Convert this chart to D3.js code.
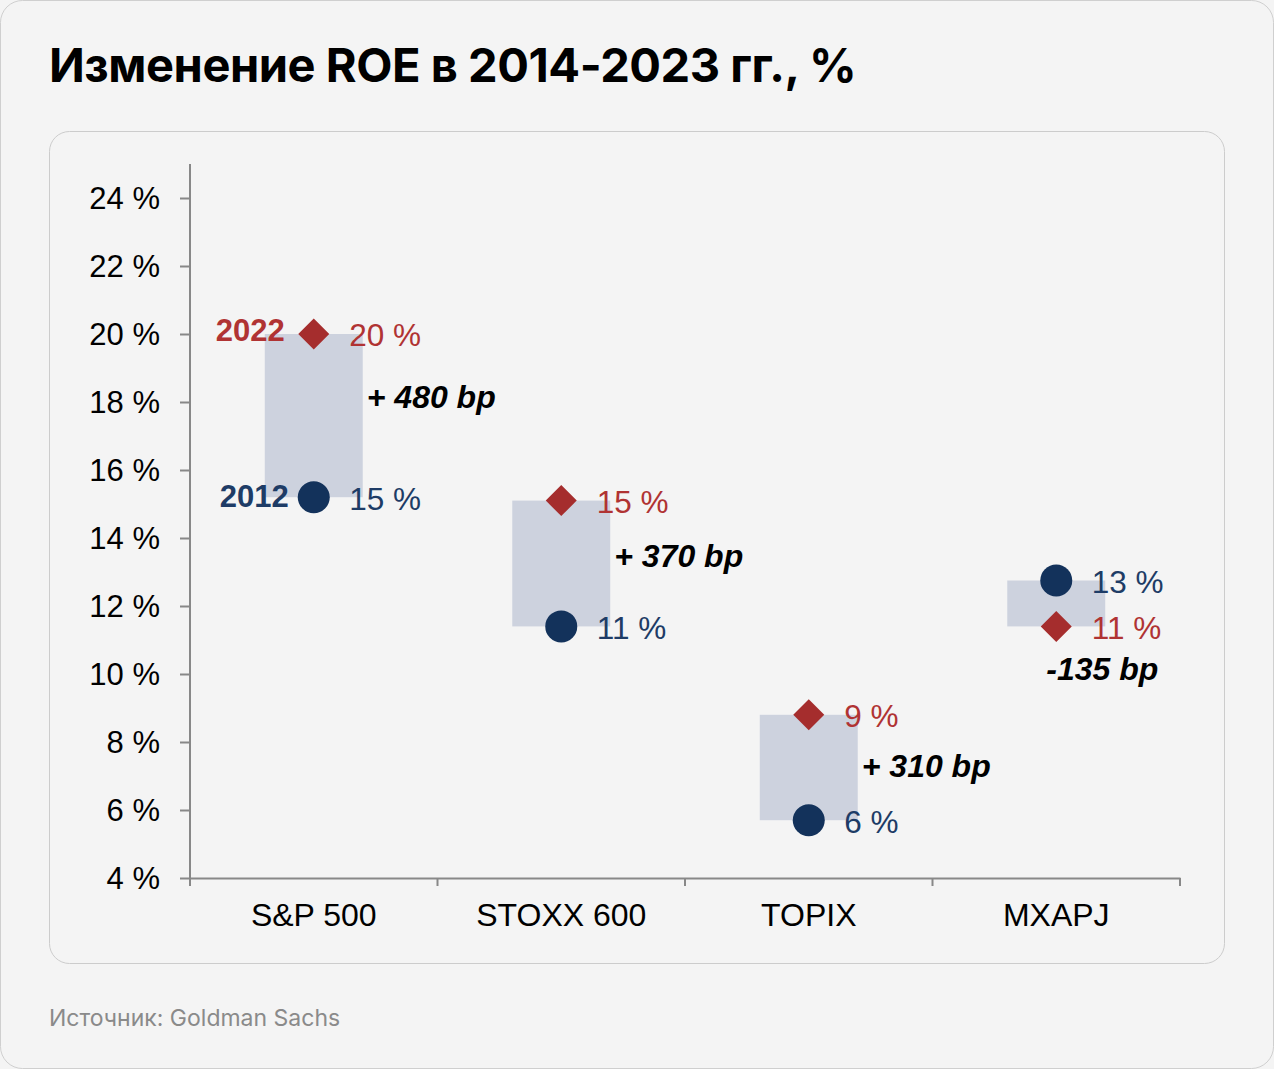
<!DOCTYPE html>
<html><head><meta charset="utf-8">
<script src="https://cdn.jsdelivr.net/npm/d3@7"></script>
<style>
html,body{margin:0;padding:0;background:#f4f4f4;}
svg{display:block;}
</style></head>
<body>
<svg id="chart" width="1274" height="1069"></svg>
<script>
const categories = ["S&P 500", "STOXX 600", "TOPIX", "MXAPJ"];
const roe2012 = [15.2, 11.4, 5.7, 12.75];
const roe2022 = [20.0, 15.1, 8.8, 11.4];
const labels2012 = ["15 %", "11 %", "6 %", "13 %"];
const labels2022 = ["20 %", "15 %", "9 %", "11 %"];
const deltaLabels = ["+ 480 bp", "+ 370 bp", "+ 310 bp", "-135 bp"];
const deltaAnchor = [18.15, 13.5, 7.3, 10.15];
const yTicks = [4, 6, 8, 10, 12, 14, 16, 18, 20, 22, 24];
const yearLabels = ["2012", "2022"];
const title = "Изменение ROE в 2014-2023 гг., %";
const source = "Источник: Goldman Sachs";

const svg = d3.select("#chart");
const RED = "#a52d2d", BLUE = "#13325b", RED_T = "#b03333", BLUE_T = "#1e3c66";
const ARIAL = "'Liberation Sans', Arial, sans-serif";

// outer card
svg.append("rect").attr("x", 0.5).attr("y", 0.5).attr("width", 1273).attr("height", 1068)
  .attr("rx", 22).attr("fill", "#f4f4f4").attr("stroke", "#cfcfcf");
// title
svg.append("text").attr("x", 49).attr("y", 82).text(title)
  .attr("font-family", "Inter, sans-serif").attr("font-weight", 700).attr("font-size", 47)
  .attr("fill", "#000").attr("letter-spacing", "-0.45");
// inner panel
svg.append("rect").attr("x", 49.5).attr("y", 131.5).attr("width", 1175).attr("height", 832)
  .attr("rx", 20).attr("fill", "#f4f4f4").attr("stroke", "#cccccc");
// source
svg.append("text").attr("x", 49).attr("y", 1026).text(source)
  .attr("font-family", "Inter, sans-serif").attr("font-size", 23).attr("fill", "#8a8a8a");

const x = d3.scaleBand().domain(categories).range([190, 1180]).padding(0);
const y = d3.scaleLinear().domain([4, 24]).range([878, 198]);

const g = svg.append("g");

// y axis
const yAxis = g.append("g").attr("transform", "translate(190,0)")
  .call(d3.axisLeft(y).tickValues(yTicks).tickSize(10).tickPadding(20).tickFormat(d => d + " %"));
yAxis.select(".domain").remove();
yAxis.selectAll(".tick line").attr("stroke", "#888").attr("stroke-width", 2);
yAxis.selectAll(".tick text").attr("font-family", ARIAL).attr("font-size", 31).attr("fill", "#000")
  .attr("dy", "0.34em");
g.append("line").attr("x1", 190).attr("x2", 190).attr("y1", 164).attr("y2", 878)
  .attr("stroke", "#888").attr("stroke-width", 2);

// x axis
const xAxis = g.append("g").attr("transform", "translate(0,878)")
  .call(d3.axisBottom(x).tickSize(0).tickPadding(25));
xAxis.select(".domain").attr("stroke", "#888").attr("stroke-width", 2);
xAxis.selectAll(".tick text").attr("font-family", ARIAL).attr("font-size", 32).attr("fill", "#000");
const bounds = [190].concat(categories.map(c => x(c) + x.bandwidth()));
g.selectAll(".xt").data(bounds).join("line").attr("class", "xt")
  .attr("x1", d => d).attr("x2", d => d).attr("y1", 878).attr("y2", 886)
  .attr("stroke", "#888").attr("stroke-width", 2);

const cx = c => x(c) + x.bandwidth() / 2;
const barW = 98;

// bars
g.selectAll(".bar").data(categories).join("rect").attr("class", "bar")
  .attr("x", d => cx(d) - barW / 2).attr("width", barW)
  .attr("y", (d, i) => y(Math.max(roe2012[i], roe2022[i])))
  .attr("height", (d, i) => Math.abs(y(roe2012[i]) - y(roe2022[i])))
  .attr("fill", "#cdd2de");

// 2022 diamonds
g.selectAll(".dia").data(categories).join("path").attr("class", "dia")
  .attr("d", (d, i) => {
    const px = cx(d), py = y(roe2022[i]), r = 15.5;
    return `M${px},${py - r}L${px + r},${py}L${px},${py + r}L${px - r},${py}Z`;
  }).attr("fill", RED);

// 2012 circles
g.selectAll(".dot").data(categories).join("circle").attr("class", "dot")
  .attr("cx", d => cx(d)).attr("cy", (d, i) => y(roe2012[i])).attr("r", 16).attr("fill", BLUE);

// value labels
g.selectAll(".l22").data(categories).join("text").attr("class", "l22")
  .attr("x", d => cx(d) + 35.5).attr("y", (d, i) => y(roe2022[i]) + 1).attr("dy", "0.36em")
  .text((d, i) => labels2022[i]).attr("font-family", ARIAL).attr("font-size", 31.5).attr("fill", RED_T);
g.selectAll(".l12").data(categories).join("text").attr("class", "l12")
  .attr("x", d => cx(d) + 35.5).attr("y", (d, i) => y(roe2012[i]) + 1).attr("dy", "0.36em")
  .text((d, i) => labels2012[i]).attr("font-family", ARIAL).attr("font-size", 31.5).attr("fill", BLUE_T);

// year labels (first category)
const c0 = categories[0];
g.append("text").attr("x", cx(c0) - 29).attr("y", y(roe2022[0]) - 4).attr("dy", "0.36em")
  .attr("text-anchor", "end").text(yearLabels[1])
  .attr("font-family", ARIAL).attr("font-weight", 700).attr("font-size", 31).attr("fill", RED_T);
g.append("text").attr("x", cx(c0) - 25).attr("y", y(roe2012[0]) - 1).attr("dy", "0.36em")
  .attr("text-anchor", "end").text(yearLabels[0])
  .attr("font-family", ARIAL).attr("font-weight", 700).attr("font-size", 31).attr("fill", BLUE_T);

// delta labels
g.selectAll(".dl").data(categories).join("text").attr("class", "dl")
  .attr("x", (d, i) => roe2022[i] >= roe2012[i] ? cx(d) + barW / 2 + 4 : cx(d) - 10)
  .attr("y", (d, i) => y(deltaAnchor[i])).attr("dy", "0.36em")
  .text((d, i) => deltaLabels[i])
  .attr("font-family", ARIAL).attr("font-weight", 700).attr("font-style", "italic")
  .attr("font-size", 32).attr("fill", "#000");
</script>
</body></html>
